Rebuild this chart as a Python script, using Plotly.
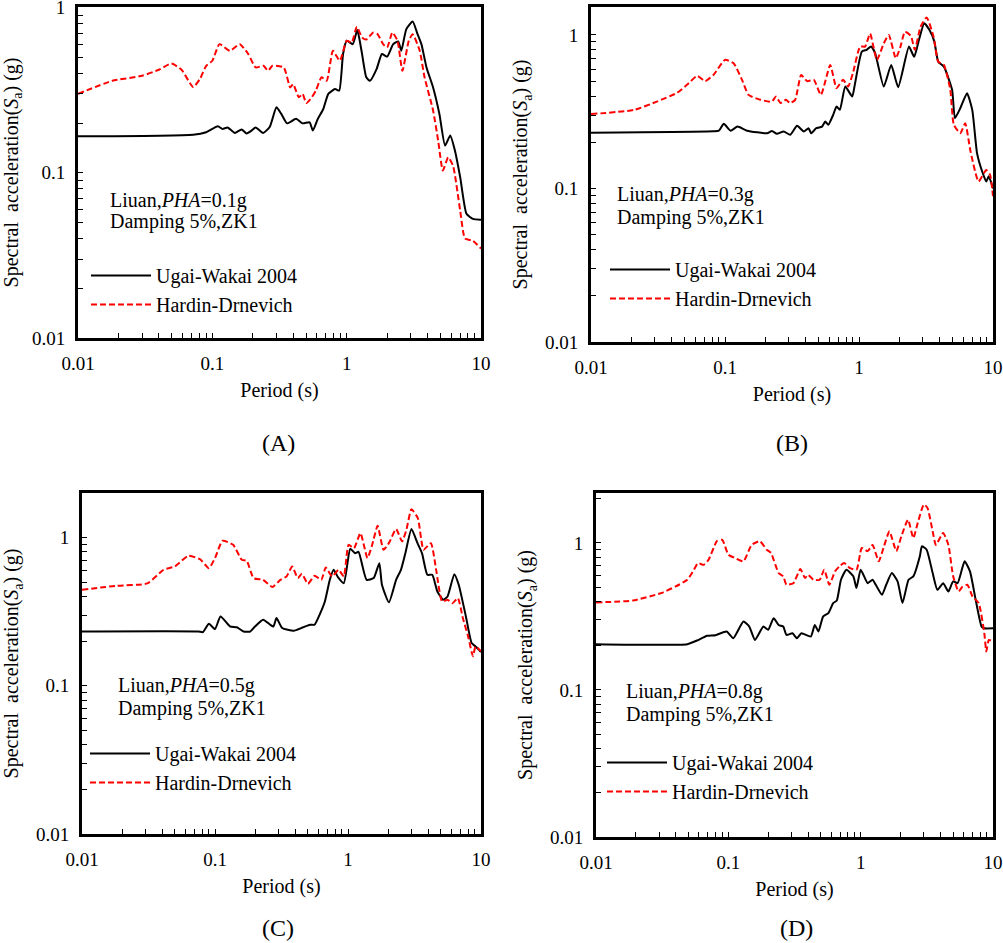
import plotly.graph_objects as go

# ---- data (period in s, Sa in g) ----
# (A) PHA = 0.1g
a_ugai_t = [0.01, 0.072, 0.09, 0.11, 0.119, 0.13, 0.147, 0.165, 0.18, 0.196, 0.21, 0.239, 0.268, 0.30, 0.326,
            0.36, 0.42, 0.47, 0.53, 0.56, 0.61, 0.67, 0.73, 0.82, 0.88, 0.94, 1.0, 1.11, 1.2, 1.29,
            1.4, 1.49, 1.67, 1.83, 2.0, 2.22, 2.42, 2.55, 2.78, 3.1, 3.37, 3.6, 3.93, 4.4, 4.9,
            5.4, 5.9, 6.4, 7.0, 7.8, 8.7, 10]
a_ugai_sa = [0.166, 0.170, 0.176, 0.191, 0.184, 0.188, 0.174, 0.183, 0.173, 0.180, 0.188, 0.174, 0.190, 0.249, 0.227,
             0.199, 0.212, 0.199, 0.202, 0.180, 0.212, 0.243, 0.300, 0.321, 0.314, 0.523, 0.629, 0.600, 0.730, 0.547,
             0.378, 0.360, 0.424, 0.523, 0.504, 0.600, 0.623, 0.547, 0.740, 0.823, 0.690, 0.600, 0.434, 0.328, 0.227,
             0.146, 0.168, 0.136, 0.094, 0.0564, 0.0526, 0.052]
a_hardin_t = [0.01, 0.018, 0.03, 0.04, 0.0496, 0.059, 0.072, 0.081, 0.09, 0.1, 0.113, 0.135, 0.16, 0.185, 0.21,
              0.24, 0.26, 0.28, 0.34, 0.38, 0.40, 0.44, 0.47, 0.50, 0.55, 0.59, 0.65, 0.71, 0.79, 0.89,
              1.0, 1.09, 1.19, 1.3, 1.4, 1.58, 1.7, 1.87, 2.0, 2.19, 2.39, 2.6, 2.9, 3.1, 3.5,
              3.8, 4.4, 4.8, 5.2, 5.7, 6.2, 7.0, 7.6, 8.7, 10]
a_hardin_sa = [0.30, 0.36, 0.386, 0.42, 0.458, 0.42, 0.33, 0.37, 0.444, 0.476, 0.60, 0.547, 0.60, 0.523, 0.434,
               0.444, 0.414, 0.444, 0.434, 0.328, 0.344, 0.286, 0.30, 0.264, 0.286, 0.314, 0.378, 0.36, 0.547, 0.476,
               0.629, 0.614, 0.764, 0.66, 0.64, 0.706, 0.69, 0.60, 0.573, 0.706, 0.629, 0.414, 0.629, 0.69, 0.547,
               0.378, 0.238, 0.156, 0.103, 0.124, 0.110, 0.059, 0.040, 0.0388, 0.0348]

# (B) PHA = 0.3g
b_ugai_t = [0.01, 0.082, 0.09, 0.098, 0.11, 0.124, 0.146, 0.206, 0.224, 0.244, 0.274, 0.307, 0.345, 0.387, 0.42,
            0.44, 0.48, 0.53, 0.56, 0.59, 0.64, 0.68, 0.72, 0.79, 0.89, 0.93, 1.05, 1.14, 1.23, 1.32,
            1.53, 1.74, 1.96, 2.36, 2.58, 2.8, 3.07, 3.35, 3.65, 3.9, 4.3, 4.95, 5.2, 5.7, 6.4,
            7.0, 7.6, 8.3, 8.9, 9.3, 10]
b_ugai_sa = [0.231, 0.236, 0.238, 0.264, 0.238, 0.253, 0.238, 0.229, 0.237, 0.227, 0.235, 0.224, 0.256, 0.235, 0.247,
             0.229, 0.247, 0.253, 0.273, 0.26, 0.30, 0.342, 0.325, 0.461, 0.397, 0.473, 0.779, 0.80, 0.84, 0.76,
             0.461, 0.638, 0.457, 0.84, 0.72, 0.928, 1.19, 1.08, 0.905, 0.67, 0.622, 0.439, 0.287, 0.333, 0.417,
             0.325, 0.17, 0.129, 0.111, 0.12, 0.10]
b_hardin_t = [0.01, 0.021, 0.031, 0.044, 0.052, 0.062, 0.071, 0.082, 0.1, 0.116, 0.134, 0.15, 0.184, 0.224, 0.24,
              0.26, 0.285, 0.306, 0.334, 0.37, 0.41, 0.46, 0.52, 0.61, 0.68, 0.76, 0.83, 0.9, 1.02, 1.11,
              1.21, 1.36, 1.53, 1.67, 1.88, 2.04, 2.2, 2.44, 2.61, 2.88, 3.2, 3.6, 3.9, 4.3, 4.8,
              5.1, 5.7, 6.2, 6.8, 7.8, 8.9, 9.5, 10]
b_hardin_sa = [0.305, 0.325, 0.368, 0.42, 0.473, 0.541, 0.50, 0.549, 0.688, 0.654, 0.51, 0.407, 0.378, 0.368, 0.397,
               0.36, 0.378, 0.36, 0.378, 0.549, 0.50, 0.51, 0.407, 0.638, 0.45, 0.51, 0.461, 0.563, 0.84, 0.84,
               1.02, 0.688, 0.88, 1.0, 0.705, 0.84, 1.05, 0.985, 0.80, 1.13, 1.30, 0.975, 0.67, 0.638, 0.439,
               0.26, 0.229, 0.266, 0.174, 0.111, 0.132, 0.123, 0.089]

# (C) PHA = 0.5g
c_ugai_t = [0.01, 0.075, 0.081, 0.09, 0.1, 0.11, 0.13, 0.146, 0.164, 0.184, 0.2, 0.23, 0.26, 0.275, 0.29,
            0.32, 0.39, 0.46, 0.52, 0.56, 0.62, 0.67, 0.73, 0.78, 0.84, 0.93, 1.04, 1.13, 1.2, 1.38,
            1.56, 1.72, 1.8, 2.03, 2.3, 2.5, 2.7, 3.0, 3.33, 3.6, 3.95, 4.3, 4.7, 5.2, 5.6,
            6.3, 6.8, 7.7, 8.5, 9.1, 10]
c_ugai_sa = [0.232, 0.232, 0.23, 0.262, 0.241, 0.293, 0.251, 0.248, 0.232, 0.232, 0.251, 0.279, 0.258, 0.251, 0.286,
             0.245, 0.235, 0.248, 0.258, 0.258, 0.31, 0.37, 0.518, 0.605, 0.54, 0.492, 0.839, 0.784, 0.80, 0.518,
             0.532, 0.671, 0.48, 0.365, 0.518, 0.605, 0.784, 1.14, 0.916, 0.784, 0.56, 0.56, 0.432, 0.38, 0.40,
             0.566, 0.48, 0.293, 0.194, 0.184, 0.169]
c_hardin_t = [0.01, 0.018, 0.031, 0.041, 0.05, 0.063, 0.077, 0.09, 0.1, 0.114, 0.137, 0.159, 0.173, 0.195, 0.23,
              0.27, 0.31, 0.345, 0.38, 0.42, 0.45, 0.5, 0.56, 0.63, 0.68, 0.76, 0.85, 0.93, 1.01, 1.11,
              1.24, 1.4, 1.52, 1.67, 1.85, 2.03, 2.3, 2.55, 2.75, 3.0, 3.35, 3.7, 4.2, 4.6, 5.1,
              5.6, 6.1, 6.7, 7.3, 8.0, 8.7, 9.1, 10]
c_hardin_sa = [0.444, 0.472, 0.49, 0.605, 0.638, 0.752, 0.714, 0.621, 0.726, 0.95, 0.892, 0.707, 0.696, 0.532, 0.518,
               0.463, 0.518, 0.546, 0.638, 0.532, 0.569, 0.487, 0.552, 0.518, 0.628, 0.546, 0.605, 0.546, 0.892, 0.847,
               1.07, 0.726, 0.892, 1.2, 0.826, 0.916, 1.14, 0.94, 1.13, 1.55, 1.35, 0.826, 0.916, 0.605, 0.37,
               0.38, 0.36, 0.39, 0.286, 0.215, 0.158, 0.184, 0.171]

# (D) PHA = 0.8g
d_ugai_t = [0.01, 0.049, 0.058, 0.069, 0.08, 0.097, 0.109, 0.13, 0.144, 0.159, 0.184, 0.2, 0.22, 0.24, 0.26,
            0.275, 0.305, 0.33, 0.357, 0.42, 0.45, 0.48, 0.52, 0.57, 0.62, 0.66, 0.71, 0.78, 0.88, 0.93,
            1.0, 1.13, 1.23, 1.3, 1.45, 1.56, 1.72, 1.9, 2.07, 2.3, 2.5, 2.8, 2.9, 3.15, 3.5,
            3.8, 4.2, 4.6, 5.0, 5.4, 6.1, 6.7, 7.4, 8.2, 8.6, 10]
d_ugai_sa = [0.205, 0.205, 0.217, 0.234, 0.236, 0.25, 0.225, 0.292, 0.27, 0.219, 0.27, 0.257, 0.308, 0.277, 0.27,
             0.237, 0.243, 0.225, 0.243, 0.231, 0.277, 0.25, 0.316, 0.333, 0.39, 0.406, 0.562, 0.658, 0.593, 0.494,
             0.658, 0.533, 0.562, 0.52, 0.444, 0.52, 0.624, 0.548, 0.39, 0.562, 0.593, 0.811, 0.949, 0.90, 0.624,
             0.48, 0.533, 0.468, 0.548, 0.533, 0.75, 0.641, 0.41, 0.27, 0.263, 0.263]
d_hardin_t = [0.01, 0.019, 0.031, 0.04, 0.049, 0.055, 0.059, 0.065, 0.071, 0.082, 0.09, 0.1, 0.112, 0.13, 0.15,
              0.173, 0.195, 0.21, 0.24, 0.26, 0.275, 0.31, 0.35, 0.38, 0.4, 0.44, 0.49, 0.53, 0.58, 0.64,
              0.69, 0.75, 0.83, 0.93, 1.02, 1.13, 1.23, 1.37, 1.5, 1.65, 1.86, 2.03, 2.28, 2.5, 2.7,
              3.0, 3.2, 3.5, 3.7, 4.2, 4.6, 5.0, 5.5, 5.9, 6.4, 7.0, 7.8, 8.6, 8.9, 9.3, 10]
d_hardin_sa = [0.394, 0.406, 0.456, 0.506, 0.562, 0.658, 0.73, 0.71, 0.77, 1.03, 1.05, 0.833, 0.79, 0.75, 0.97,
               1.03, 0.90, 0.855, 0.624, 0.593, 0.52, 0.533, 0.665, 0.577, 0.608, 0.562, 0.562, 0.658, 0.52, 0.641,
               0.693, 0.73, 0.675, 0.658, 0.924, 0.88, 0.97, 0.75, 0.949, 1.2, 0.88, 1.11, 1.44, 1.08, 1.37,
               1.83, 1.73, 1.2, 0.97, 1.17, 0.97, 0.593, 0.468, 0.506, 0.52, 0.433, 0.39, 0.243, 0.183, 0.219, 0.214]

pha_labels = ["0.1", "0.3", "0.5", "0.8"]
panel_labels = ["(A)", "(B)", "(C)", "(D)"]
x_tick_labels = {0.01: "0.01", 0.1: "0.1", 1: "1", 10: "10"}
y_tick_labels = {0.01: "0.01", 0.1: "0.1", 1: "1"}

W, H = 1003, 943
FONT = "Liberation Serif, Times New Roman, serif"

# pixel boxes of each plot area: left, right, top, bottom
boxes = [(78, 481, 7, 338), (591, 993, 7, 342), (82, 481, 493, 834), (596, 993, 493, 837)]
y_tops = [0.003, 0.182, 0.30, 0.34]
legend_pos = [(86, 256), (605, 250), (85, 734), (602, 743)]
note_pos = [(108, 200, 222), (615, 195, 218), (116, 685, 708), (624, 691, 714)]
label_pos = [(278, 443), (792, 443), (278, 928), (796, 928)]

series = [
    (a_ugai_t, a_ugai_sa, a_hardin_t, a_hardin_sa),
    (b_ugai_t, b_ugai_sa, b_hardin_t, b_hardin_sa),
    (c_ugai_t, c_ugai_sa, c_hardin_t, c_hardin_sa),
    (d_ugai_t, d_ugai_sa, d_hardin_t, d_hardin_sa),
]

minor_x = [m * 10 ** e for e in (-2, -1, 0) for m in range(1, 10)] + [10]
minor_y = [m * 10 ** e for e in (-2, -1) for m in range(1, 10)] + [1, 2]


def px(x):
    return x / W


def py(y):
    return 1 - y / H


fig = go.Figure()
layout = dict(
    width=W, height=H,
    margin=dict(l=0, r=0, t=0, b=0, autoexpand=False),
    paper_bgcolor="white", plot_bgcolor="white",
    font=dict(family=FONT, size=20, color="black"),
    annotations=[],
)

for i, (ut, usa, ht, hsa) in enumerate(series):
    n = "" if i == 0 else str(i + 1)
    leg = "legend" + n
    fig.add_trace(go.Scatter(x=ut, y=usa, mode="lines", name="Ugai-Wakai 2004",
                             line=dict(color="black", width=2, shape="spline", smoothing=0.5),
                             xaxis="x" + n, yaxis="y" + n, legend=leg))
    fig.add_trace(go.Scatter(x=ht, y=hsa, mode="lines", name="Hardin-Drnevich",
                             line=dict(color="#ff0000", width=2, dash="6px,3px", shape="spline", smoothing=0.5),
                             xaxis="x" + n, yaxis="y" + n, legend=leg))

    l, r, t, b = boxes[i]
    axis_common = dict(type="log", showline=True, linecolor="black", linewidth=3, mirror=True,
                       ticks="inside", ticklen=5, tickwidth=1.2, tickcolor="black", automargin=False,
                       ticklabelstandoff=6, ticklabeloverflow="allow",
                       showgrid=False, zeroline=False, tickfont=dict(family=FONT, size=19))
    layout["xaxis" + n] = dict(axis_common, domain=[px(l), px(r)], anchor="y" + n,
                               range=[-2, 1],
                               tickvals=minor_x,
                               ticktext=[x_tick_labels.get(v, "") for v in minor_x],
                               title=dict(text="Period (s)", font=dict(family=FONT, size=20), standoff=11))
    layout["yaxis" + n] = dict(axis_common, domain=[py(b), py(t)], anchor="x" + n,
                               range=[-2, y_tops[i]],
                               tickvals=minor_y,
                               ticktext=[y_tick_labels.get(v, "") for v in minor_y],
                               title=dict(text="Spectral  acceleration(<i>S</i><sub>a</sub>) (g)",
                                          font=dict(family=FONT, size=20), standoff=12))

    lx, ly = legend_pos[i]
    layout[leg] = dict(x=px(lx), y=py(ly), xanchor="left", yanchor="top",
                       bgcolor="rgba(0,0,0,0)", font=dict(family=FONT, size=20),
                       itemwidth=60, tracegroupgap=0)

    nx, ny1, ny2 = note_pos[i]
    layout["annotations"].append(dict(x=px(nx), y=py(ny1), xref="paper", yref="paper",
                                      xanchor="left", yanchor="middle", showarrow=False,
                                      text="Liuan,<i>PHA</i>=" + pha_labels[i] + "g",
                                      font=dict(family=FONT, size=20)))
    layout["annotations"].append(dict(x=px(nx), y=py(ny2), xref="paper", yref="paper",
                                      xanchor="left", yanchor="middle", showarrow=False,
                                      text="Damping 5%,ZK1", font=dict(family=FONT, size=20)))
    cx, cy = label_pos[i]
    layout["annotations"].append(dict(x=px(cx), y=py(cy), xref="paper", yref="paper",
                                      xanchor="center", yanchor="middle", showarrow=False,
                                      text=panel_labels[i], font=dict(family=FONT, size=24)))

fig.update_layout(**layout)
# the page's default 8px body margin would push the figure off its 1003x943 window
fig.write_html("out.html", config={"displayModeBar": False},
               post_script="document.body.style.margin='0px';")
